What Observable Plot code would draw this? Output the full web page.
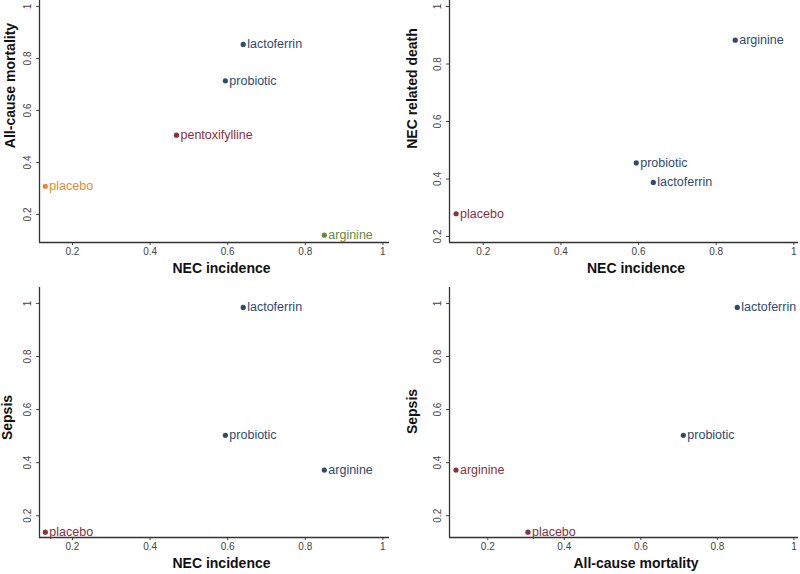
<!DOCTYPE html>
<html>
<head>
<meta charset="utf-8">
<script src="https://cdn.jsdelivr.net/npm/d3@7"></script>
<script src="https://cdn.jsdelivr.net/npm/@observablehq/plot@0.6"></script>
<style>
  html, body { margin: 0; padding: 0; background: #fff; }
  #grid { display: grid; grid-template-columns: 400px 400px; grid-template-rows: 287px 287px; width: 800px; height: 574px; }
  #grid svg { display: block; }
</style>
</head>
<body>
<div id="grid"></div>
<script>
// ---- data ----
const ticks = [0.2, 0.4, 0.6, 0.8, 1];
const tickLabels = ["0.2", "0.4", "0.6", "0.8", "1"];

// Panel 1: NEC incidence vs All-cause mortality
const p1Names = ["placebo", "pentoxifylline", "probiotic", "lactoferrin", "arginine"];
const p1Nec = [0.13, 0.468, 0.594, 0.64, 0.849];
const p1Mort = [0.308, 0.505, 0.714, 0.854, 0.12];
const p1Group = ["cluster C", "cluster B", "cluster A", "cluster A", "cluster D"];

// Panel 2: NEC incidence vs NEC related death
const p2Names = ["placebo", "probiotic", "lactoferrin", "arginine"];
const p2Nec = [0.13, 0.594, 0.638, 0.849];
const p2Death = [0.279, 0.456, 0.388, 0.883];
const p2Group = ["cluster B", "cluster A", "cluster A", "cluster A"];

// Panel 3: NEC incidence vs Sepsis
const p3Names = ["placebo", "probiotic", "lactoferrin", "arginine"];
const p3Nec = [0.13, 0.594, 0.64, 0.849];
const p3Sepsis = [0.138, 0.503, 0.985, 0.372];
const p3Group = ["cluster B", "cluster A", "cluster A", "cluster A"];

// Panel 4: All-cause mortality vs Sepsis
const p4Names = ["placebo", "probiotic", "lactoferrin", "arginine"];
const p4Mort = [0.305, 0.711, 0.852, 0.117];
const p4Sepsis = [0.138, 0.503, 0.985, 0.372];
const p4Group = ["cluster B", "cluster A", "cluster A", "cluster B"];

const groupNames = ["cluster A", "cluster B", "cluster C", "cluster D"];
const groupColors = ["#2f4b6e", "#8a3040", "#e58a36", "#6a8a3c"];

// ---- drawing ----
const font = "'Liberation Sans', Arial, Helvetica, sans-serif";
const tickFmt = d => tickLabels[ticks.indexOf(d)] ?? String(d);

function panel(cfg) {
  const data = cfg.names.map((n, i) => ({name: n, x: cfg.xs[i], y: cfg.ys[i], g: cfg.groups[i]}));
  return Plot.plot({
    width: 400,
    height: 287,
    marginLeft: cfg.ml,
    marginRight: cfg.mr,
    marginTop: 0,
    marginBottom: cfg.mb,
    style: {fontFamily: font, background: "#fff", overflow: "visible"},
    x: {domain: cfg.xd, axis: null},
    y: {domain: cfg.yd, axis: null},
    color: {domain: groupNames, range: groupColors},
    marks: [
      Plot.axisX({ticks, tickFormat: tickFmt, tickSize: 3, tickPadding: 2, fontSize: 10, color: "#444", label: null}),
      Plot.axisY({ticks, tickFormat: tickFmt, tickSize: 3, tickRotate: -90, fontSize: 10, color: "#444", label: null}),
      Plot.ruleY([cfg.yd[0]], {stroke: "#333", strokeWidth: 1.3}),
      Plot.ruleX([cfg.xd[0]], {stroke: "#333", strokeWidth: 1.3}),
      Plot.dot(data, {x: "x", y: "y", fill: "g", r: 2.6, stroke: null}),
      Plot.text(data, {x: "x", y: "y", text: "name", fill: "g", textAnchor: "start", dx: 4, fontSize: 12.5}),
      Plot.text([cfg.xlabel], {frameAnchor: "bottom", textAnchor: "middle", lineAnchor: "middle", dy: 26, dx: cfg.xlDx, fontSize: 14, fontWeight: "bold", fill: "#111"}),
      Plot.text([cfg.ylabel], {frameAnchor: "left", textAnchor: "middle", lineAnchor: "middle", rotate: -90, dx: cfg.ylDx, dy: cfg.ylDy, fontSize: 14, fontWeight: "bold", fill: "#111"})
    ]
  });
}

const grid = document.getElementById("grid");
grid.append(panel({
  names: p1Names, xs: p1Nec, ys: p1Mort, groups: p1Group,
  ml: 39, mr: 11, mb: 45, xd: [0.115, 1.017], yd: [0.092, 1.023],
  xlabel: "NEC incidence", ylabel: "All-cause mortality", xlDx: 7, ylDx: -29, ylDy: -36
}));
grid.append(panel({
  names: p2Names, xs: p2Nec, ys: p2Death, groups: p2Group,
  ml: 49, mr: 2, mb: 45, xd: [0.113, 1.012], yd: [0.179, 1.021],
  xlabel: "NEC incidence", ylabel: "NEC related death", xlDx: 12, ylDx: -37, ylDy: -33
}));
grid.append(panel({
  names: p3Names, xs: p3Nec, ys: p3Sepsis, groups: p3Group,
  ml: 39, mr: 11, mb: 37, xd: [0.115, 1.017], yd: [0.118, 1.06],
  xlabel: "NEC incidence", ylabel: "Sepsis", xlDx: 7, ylDx: -32, ylDy: 5
}));
grid.append(panel({
  names: p4Names, xs: p4Mort, ys: p4Sepsis, groups: p4Group,
  ml: 49, mr: 2, mb: 37, xd: [0.1, 1.012], yd: [0.118, 1.06],
  xlabel: "All-cause mortality", ylabel: "Sepsis", xlDx: 12, ylDx: -37, ylDy: -1
}));
</script>
</body>
</html>
